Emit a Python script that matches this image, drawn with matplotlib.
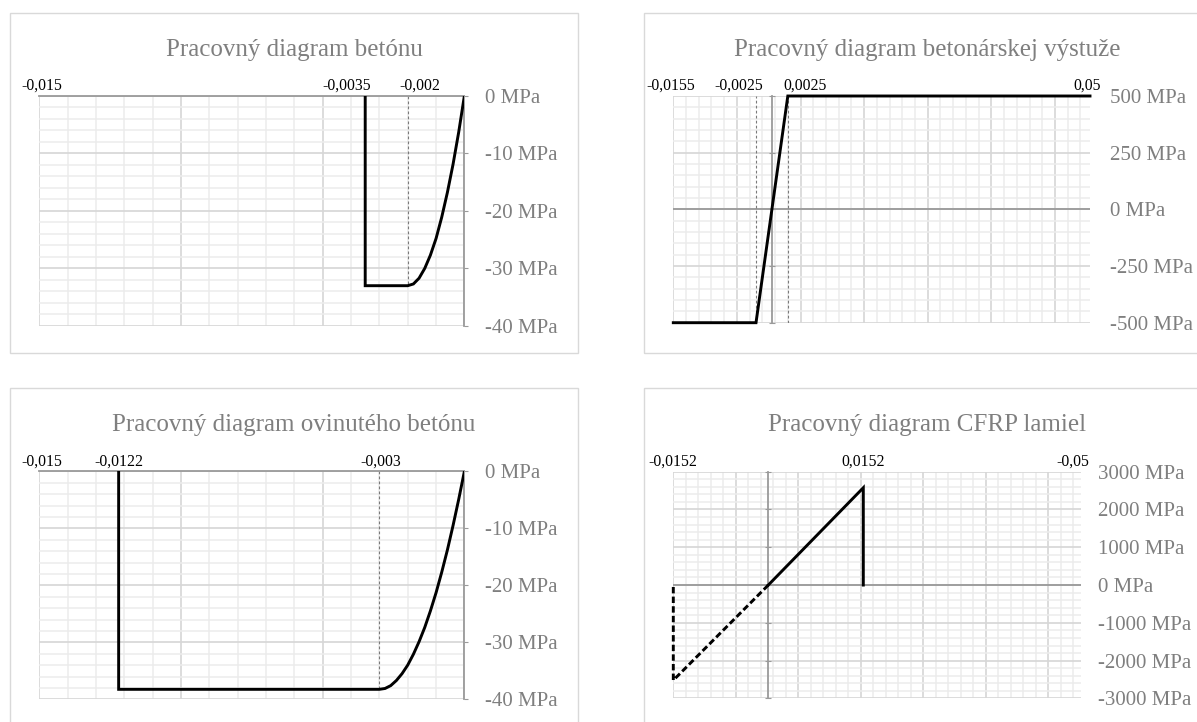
import matplotlib
matplotlib.use("Agg")
import matplotlib.pyplot as plt
from matplotlib.patches import Rectangle
from matplotlib.ticker import MultipleLocator, FixedLocator, FuncFormatter
import matplotlib.transforms as mtransforms

plt.rcParams['font.family'] = ['Liberation Serif', 'DejaVu Serif']

# ---------------- data ----------------
# Concrete (parabola-rectangle)
concrete_strain = [0.0, -0.0002, -0.0004, -0.0006, -0.0008, -0.0010, -0.0012,
                   -0.0014, -0.0016, -0.0018, -0.0020, -0.0035, -0.0035]
concrete_stress = [0.0, -6.3, -11.9, -16.8, -21.1, -24.8, -27.7,
                   -30.0, -31.7, -32.7, -33.0, -33.0, 0.0]
concrete_ref_strain = -0.002
concrete_ref_stress = -33.0
concrete_xlabels = ["-0,015", "-0,0035", "-0,002"]
concrete_xlabel_pos = [-0.015, -0.0035, -0.002]
concrete_yticks = [0, -10, -20, -30, -40]

# Reinforcing steel (bilinear)
steel_strain = [-0.0155, -0.0025, 0.0025, 0.05]
steel_stress = [-500, -500, 500, 500]
steel_ref_strain = [-0.0025, 0.0025]
steel_xlabels = ["-0,0155", "-0,0025", "0,0025", "0,05"]
steel_xlabel_pos = [-0.0155, -0.0025, 0.0025, 0.05]
steel_yticks = [500, 250, 0, -250, -500]

# Confined concrete
confined_strain = [0.0, -0.0002, -0.0004, -0.0006, -0.0008, -0.0010, -0.0012,
                   -0.0014, -0.0016, -0.0018, -0.0020, -0.0022, -0.0024,
                   -0.0026, -0.0028, -0.0030, -0.0122, -0.0122]
confined_stress = [0.0, -4.9, -9.5, -13.8, -17.7, -21.3, -24.5,
                   -27.4, -29.9, -32.1, -34.0, -35.5, -36.7,
                   -37.6, -38.1, -38.25, -38.25, 0.0]
confined_ref_strain = -0.003
confined_ref_stress = -38.25
confined_xlabels = ["-0,015", "-0,0122", "-0,003"]
confined_xlabel_pos = [-0.015, -0.0122, -0.003]
confined_yticks = [0, -10, -20, -30, -40]

# CFRP laminates
cfrp_tension_strain = [0.0, 0.0152, 0.0152]
cfrp_tension_stress = [0, 2575, 0]
cfrp_compr_strain = [0.0, -0.0152, -0.0152]
cfrp_compr_stress = [0, -2520, 0]
cfrp_xlabels = ["-0,0152", "0,0152", "-0,05"]
cfrp_xlabel_pos = [-0.0152, 0.0152, 0.05]
cfrp_yticks = [3000, 2000, 1000, 0, -1000, -2000, -3000]

# ---------------- layout ----------------
W, H = 1197, 722
fig = plt.figure(figsize=(W / 100, H / 100), dpi=100)

GRAY_TXT = '#7f7f7f'
AXIS_C = '#9a9a9a'
MAJOR_C = '#d6d6d6'
MINOR_C = '#ececec'
FRAME_C = '#d9d9d9'


def box(l, t, r, b):
    return [l / W, 1 - b / H, (r - l) / W, (b - t) / H]


def frame(l, t, r, b):
    fig.patches.append(Rectangle((l / W, 1 - b / H), (r - l) / W, (b - t) / H,
                                 transform=fig.transFigure, fill=False,
                                 ec=FRAME_C, lw=1.0, zorder=0))


def mpa(v, pos):
    return f"{int(round(v))} MPa"


def setup(ax, xlim, ylim, xmaj, xmin, xoff, ymaj, ymin, yticks, pad,
          axis_inside):
    ax.set_xlim(*xlim)
    ax.set_ylim(*ylim)
    ax.xaxis.set_major_locator(MultipleLocator(xmaj, offset=xoff))
    ax.xaxis.set_minor_locator(MultipleLocator(xmin, offset=xoff))
    ax.yaxis.set_major_locator(MultipleLocator(ymaj))
    ax.yaxis.set_minor_locator(MultipleLocator(ymin))
    ax.grid(which='minor', color=MINOR_C, lw=1.1, zorder=0)
    ax.grid(which='major', color=MAJOR_C, lw=1.2, zorder=0)
    ax.set_axisbelow(True)
    ax.tick_params(axis='x', which='both', length=0, labelbottom=False,
                   labeltop=False)
    ax.tick_params(axis='y', which='minor', length=0)
    ax.yaxis.set_major_formatter(FuncFormatter(mpa))
    for s in ax.spines.values():
        s.set_visible(False)
    if axis_inside:
        ax.spines['left'].set_visible(True)
        ax.spines['left'].set_position(('data', 0))
        ax.spines['left'].set_color(AXIS_C)
        ax.spines['left'].set_linewidth(1.3)
        ax.axhline(0, color=AXIS_C, lw=1.3, zorder=1)
        ax.tick_params(axis='y', which='major', left=True, right=False,
                       labelleft=False, labelright=True, direction='inout',
                       length=5, color=AXIS_C, pad=pad, labelsize=15,
                       labelcolor=GRAY_TXT)
    else:
        for side in ('right', 'top'):
            ax.spines[side].set_visible(True)
            ax.spines[side].set_color(AXIS_C)
            ax.spines[side].set_linewidth(1.3)
        ax.tick_params(axis='y', which='major', left=False, right=True,
                       labelleft=False, labelright=True, direction='out',
                       length=3, color=AXIS_C, pad=pad, labelsize=15,
                       labelcolor=GRAY_TXT)
    ax.yaxis.set_major_locator(FixedLocator(yticks))
    ax.set_facecolor('none')


def xlabels(ax, labels, positions, nudges):
    trans = mtransforms.blended_transform_factory(ax.transData, ax.transAxes)
    for lab, x, dx in zip(labels, positions, nudges):
        ax.annotate(lab, xy=(x, 1.0), xycoords=trans,
                    xytext=(dx, 1.5), textcoords='offset points',
                    ha='center', va='bottom', fontsize=11.3, color='black',
                    annotation_clip=False)


LINE = dict(color='black', lw=2.1, solid_joinstyle='miter', zorder=3)
REF = dict(color='#7a7a7a', lw=0.8, ls=(0, (2.5, 2.0)), zorder=2)

# Chart frames
frame(9.6, 13.3, 578, 352.7)
frame(644, 13.3, 1211, 352.7)
frame(9.6, 388, 578, 740)
frame(644, 388, 1211, 740)

# Titles
TITLE = dict(fontsize=18, color=GRAY_TXT, ha='center', va='center')
fig.text(294 / W, 1 - 50 / H, "Pracovný diagram betónu", **TITLE)
fig.text(927.5 / W, 1 - 50 / H, "Pracovný diagram betonárskej výstuže", **TITLE)
fig.text(294 / W, 1 - 425 / H, "Pracovný diagram ovinutého betónu", **TITLE)
fig.text(927.5 / W, 1 - 425 / H, "Pracovný diagram CFRP lamiel", **TITLE)

# ---- Concrete ----
ax1 = fig.add_axes(box(39.3, 95.7, 464.4, 326.0))
setup(ax1, (-0.015, 0.0), (-40, 0), 0.005, 0.001, 0.0, 10, 2,
      concrete_yticks, 12, axis_inside=False)
ax1.plot([concrete_ref_strain, concrete_ref_strain], [0, concrete_ref_stress], **REF)
ax1.plot(concrete_strain, concrete_stress, **LINE)
xlabels(ax1, concrete_xlabels, concrete_xlabel_pos, [1.5, -13, 9])

# ---- Steel ----
ax2 = fig.add_axes(box(673.3, 96.0, 1090.0, 322.7))
setup(ax2, (-0.0155, 0.05), (-500, 500), 0.01, 0.002, -0.0155, 250, 50,
      steel_yticks, 12, axis_inside=True)
for xr in steel_ref_strain:
    ax2.axvline(xr, **REF)
ax2.plot(steel_strain, steel_stress, clip_on=False, **LINE)
xlabels(ax2, steel_xlabels, steel_xlabel_pos, [-1.5, -12.5, 12.5, -2])

# ---- Confined concrete ----
ax3 = fig.add_axes(box(39.3, 471.3, 464.4, 699.3))
setup(ax3, (-0.015, 0.0), (-40, 0), 0.005, 0.001, 0.0, 10, 2,
      confined_yticks, 12, axis_inside=False)
ax3.plot([confined_ref_strain, confined_ref_strain], [0, confined_ref_stress], **REF)
ax3.plot(confined_strain, confined_stress, **LINE)
xlabels(ax3, confined_xlabels, confined_xlabel_pos, [1.5, 0, 1])

# ---- CFRP ----
ax4 = fig.add_axes(box(673.3, 471.7, 1080.8, 698.4))
setup(ax4, (-0.0152, 0.05), (-3000, 3000), 0.01, 0.002, -0.0152, 1000, 200,
      cfrp_yticks, 10, axis_inside=True)
ax4.plot(cfrp_tension_strain, cfrp_tension_stress, **LINE)
ax4.plot(cfrp_compr_strain, cfrp_compr_stress, color='black', lw=2.1,
         ls=(0, (2.2, 1.1)), zorder=3, clip_on=False)
xlabels(ax4, cfrp_xlabels, cfrp_xlabel_pos, [0, 0, -6])

fig.savefig("out.png", dpi=100)
